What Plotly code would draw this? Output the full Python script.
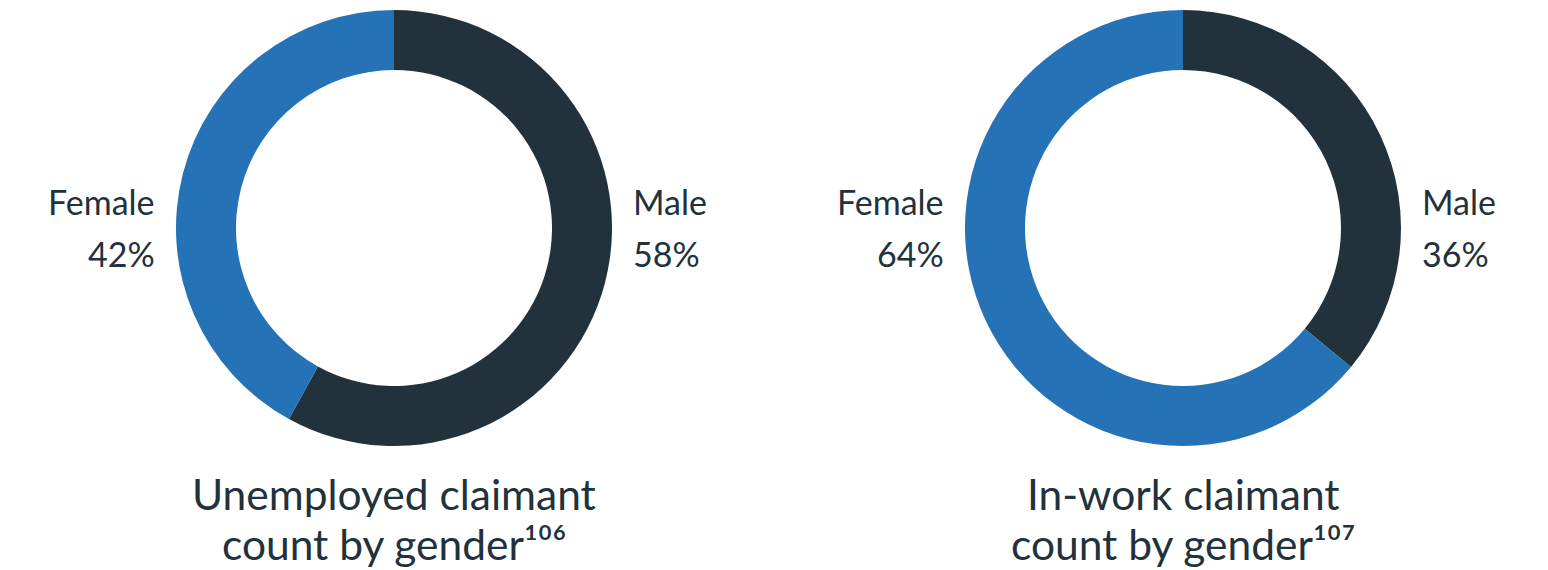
import plotly.graph_objects as go

labels = ["Male", "Female"]
unemployed = [58, 42]
inwork = [36, 64]
title_line1 = ["Unemployed claimant", "In-work claimant"]
title_line2 = ["count by gender\u00b9\u2070\u2076", "count by gender\u00b9\u2070\u2077"]

colors = ["#22323c", "#2572b6"]
W, H = 1548, 570
txt = "#22323c"
font = "Lato"
lab_size = 34
title_size = 42.5

fig = go.Figure()
centers = [394, 1183]
R = 218
cy = 228
for cx, vals in zip(centers, [unemployed, inwork]):
    fig.add_trace(go.Pie(
        labels=labels, values=vals, sort=False, direction="clockwise", rotation=0,
        hole=158 / 218, marker=dict(colors=colors, line=dict(width=0)),
        textinfo="none", hoverinfo="label+percent", showlegend=False,
        domain=dict(x=[(cx - R) / W, (cx + R) / W], y=[1 - (cy + R) / H, 1 - (cy - R) / H]),
    ))

ann = []
def add(x, y, text, anchor, size):
    ann.append(dict(x=x / W, y=1 - y / H, xref="paper", yref="paper", text=text,
                    showarrow=False, xanchor=anchor, yanchor="middle",
                    font=dict(family=font, size=size, color=txt)))

for cx, vals, t1, t2 in zip(centers, [unemployed, inwork], title_line1, title_line2):
    add(cx - 237, 201, labels[1], "right", lab_size)
    add(cx - 237, 253, f"{vals[1]}%", "right", lab_size)
    add(cx + 237, 201, labels[0], "left", lab_size)
    add(cx + 237, 253, f"{vals[0]}%", "left", lab_size)
    add(cx, 493, t1, "center", title_size)
    add(cx, 543, t2, "center", title_size)

fig.update_layout(width=W, height=H, margin=dict(l=0, r=0, t=0, b=0),
                  paper_bgcolor="white", plot_bgcolor="white", annotations=ann)
fig.write_html("out.html", config={"displayModeBar": False},
               post_script="document.body.style.margin='0px';")
